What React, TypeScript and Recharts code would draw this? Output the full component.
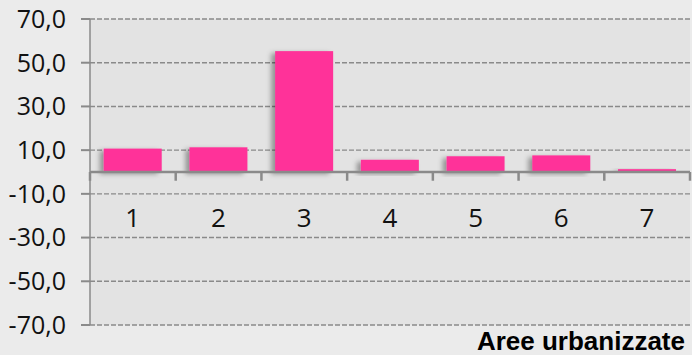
import { BarChart, Bar, XAxis, YAxis, CartesianGrid, ReferenceLine, LabelList, Label } from 'recharts';

const categories = ['1', '2', '3', '4', '5', '6', '7'];
const values = [10.7, 11.3, 55.3, 5.6, 7.2, 7.6, 1.3];
const yTicks = [-70, -50, -30, -10, 10, 30, 50, 70];
const title = 'Aree urbanizzate';

const data = categories.map((name, i) => ({ name, value: values[i] }));

const PINK = '#ff3399';
const AXIS = '#8a8a8a';
const FONT = '"Open Sans", "Noto Sans", sans-serif';

const fmt = (v: number) => v.toFixed(1).replace('.', ',');

function ShadowBar(props: any) {
  const { x, y, width, height } = props;
  if (!height) return null;
  return <rect x={x} y={y} width={width} height={height} fill={PINK} filter="url(#barShadow)" />;
}

// category names sit under the zero line, inside the plot
function CategoryLabel(props: any) {
  const { x, y, width, height, value } = props;
  return (
    <text x={x + width / 2} y={y + height + 55} textAnchor="middle" fill="#111" fontSize={26} fontFamily={FONT}>
      {value}
    </text>
  );
}

export default function App() {
  const last = categories[categories.length - 1];
  return (
    <div style={{ position: 'fixed', left: 0, top: 0, width: 692, height: 355, background: '#ebebeb' }}>
      <BarChart
        width={692}
        height={355}
        data={data}
        margin={{ top: 19, right: 2, bottom: 0, left: 0 }}
        barCategoryGap="16%"
      >
        <defs>
          <filter id="barShadow" x="-30%" y="-30%" width="160%" height="160%">
            <feDropShadow dx={-4} dy={2} stdDeviation={2.5} floodColor="#000" floodOpacity={0.35} />
          </filter>
        </defs>
        <CartesianGrid vertical={false} fill="#e3e3e3" stroke={AXIS} strokeDasharray="5 2" strokeWidth={1.4} />
        <XAxis dataKey="name" tick={false} axisLine={false} tickLine={false} height={30}>
          <Label
            value={title}
            position="insideBottomRight"
            offset={5}
            style={{ fontFamily: '"Liberation Sans", Arial, sans-serif', fontWeight: 700, fontSize: 26, fill: '#000' }}
          />
        </XAxis>
        <YAxis
          domain={[-70, 70]}
          ticks={yTicks}
          interval={0}
          width={90}
          tickFormatter={fmt}
          tickSize={9}
          tickMargin={15}
          tick={{ fill: '#111', fontSize: 25, fontFamily: FONT }}
          axisLine={{ stroke: AXIS, strokeWidth: 1.5 }}
          tickLine={{ stroke: AXIS, strokeWidth: 2 }}
        />
        <Bar dataKey="value" isAnimationActive={false} shape={<ShadowBar />}>
          <LabelList dataKey="name" content={<CategoryLabel />} />
        </Bar>
        <ReferenceLine y={0} stroke={AXIS} strokeWidth={2.5} />
        {categories.map((c) => (
          <ReferenceLine
            key={c}
            position="start"
            segment={[
              { x: c, y: 0 },
              { x: c, y: -4 },
            ]}
            stroke={AXIS}
            strokeWidth={2.5}
          />
        ))}
        <ReferenceLine
          position="end"
          segment={[
            { x: last, y: 0 },
            { x: last, y: -4 },
          ]}
          stroke={AXIS}
          strokeWidth={2.5}
        />
      </BarChart>
    </div>
  );
}
